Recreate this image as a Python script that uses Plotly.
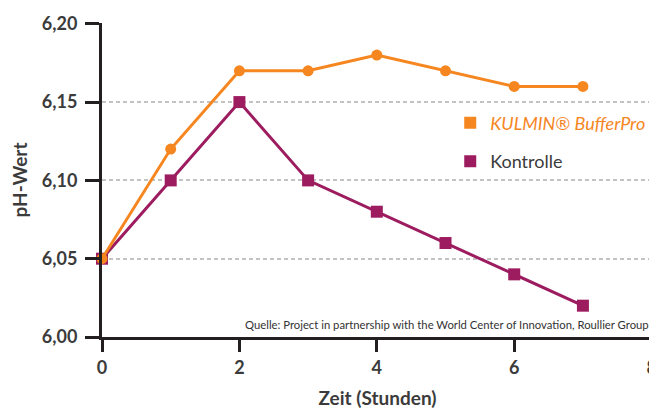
import plotly.graph_objects as go

hours = [0, 1, 2, 3, 4, 5, 6, 7]
kulmin = [6.05, 6.12, 6.17, 6.17, 6.18, 6.17, 6.16, 6.16]
kontrolle = [6.05, 6.10, 6.15, 6.10, 6.08, 6.06, 6.04, 6.02]
x_ticks = [0, 2, 4, 6, 8]
y_ticks = [6.00, 6.05, 6.10, 6.15, 6.20]

ORANGE = "#f6861f"
PURPLE = "#9c1c5f"
DARK = "#231f20"
TXT = "#3b3b3b"
FONT = "Lato"

fig = go.Figure()
fig.add_trace(go.Scatter(x=hours, y=kontrolle, mode="lines+markers",
                         line=dict(color=PURPLE, width=3),
                         marker=dict(symbol="square", size=12, color=PURPLE),
                         cliponaxis=False, showlegend=False))
fig.add_trace(go.Scatter(x=hours, y=kulmin, mode="lines+markers",
                         line=dict(color=ORANGE, width=3),
                         marker=dict(symbol="circle", size=11, color=ORANGE),
                         cliponaxis=False, showlegend=False))
# legend entries
fig.add_trace(go.Scatter(x=[None], y=[None], mode="markers", legendgroup="a",
                         marker=dict(symbol="square", size=16, color=ORANGE),
                         name="<i><span style='color:%s'>KULMIN® BufferPro</span></i>" % ORANGE))
fig.add_trace(go.Scatter(x=[None], y=[None], mode="markers", legendgroup="b",
                         marker=dict(symbol="square", size=16, color=PURPLE),
                         name="Kontrolle"))

fig.update_layout(
    width=649, height=402,
    margin=dict(l=94, r=4, t=15, b=73, autoexpand=False),
    paper_bgcolor="white", plot_bgcolor="white",
    separators=",.",
    font=dict(family=FONT, color=TXT),
    legend=dict(x=0.632, y=0.74, xanchor="left", yanchor="top",
                font=dict(size=18, color=TXT), bgcolor="rgba(0,0,0,0)",
                tracegroupgap=12, itemsizing="constant", itemwidth=30),
    xaxis=dict(range=[0, 8.02], tickvals=x_ticks, ticktext=[str(v) for v in x_ticks],
               showgrid=False, zeroline=False, automargin=False,
               showline=True, linecolor=DARK, linewidth=3,
               ticks="outside", ticklen=12, tickwidth=3, tickcolor=DARK,
               ticklabeloverflow="allow",
               tickfont=dict(size=18, family=FONT, color=TXT, weight="bold"),
               title=dict(text="<b>Zeit (Stunden)</b>", font=dict(size=19, color=TXT), standoff=16)),
    yaxis=dict(range=[6.0, 6.2005], tickvals=y_ticks, tickformat=".2f",
               showgrid=True, gridcolor="#c3c3c3", griddash="4px,3px", gridwidth=1.5,
               zeroline=False, automargin=False,
               showline=True, linecolor=DARK, linewidth=3,
               ticks="outside", ticklen=14, tickwidth=3, tickcolor=DARK,
               ticklabelstandoff=4,
               tickfont=dict(size=18, family=FONT, color=TXT, weight="bold"),
               title=dict(text="<b>pH-Wert</b>", font=dict(size=19, color=TXT), standoff=10)),
)

fig.add_annotation(text="Quelle: Project in partnership with the World Center of Innovation, Roullier Group",
                   xref="paper", yref="paper", x=0.9964, y=0.0, xanchor="right", yanchor="bottom",
                   yshift=4, showarrow=False, font=dict(size=11.3, color="#333333", family=FONT))

fig.write_html("out.html")
